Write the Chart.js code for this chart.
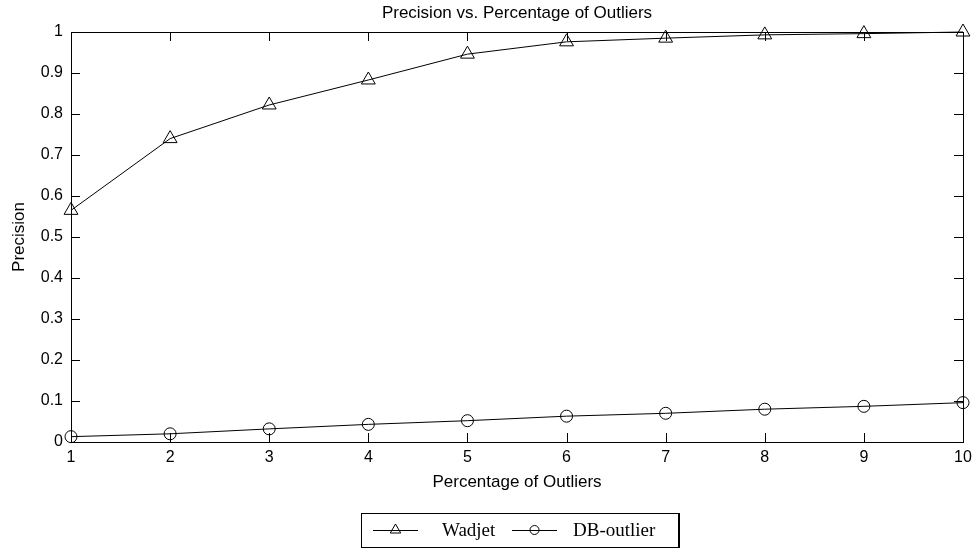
<!DOCTYPE html>
<html>
<head>
<meta charset="utf-8">
<title>Precision vs. Percentage of Outliers</title>
<script src="https://cdn.jsdelivr.net/npm/chart.js@4/dist/chart.umd.min.js"></script>
<style>
  html, body { margin: 0; padding: 0; background: #fff; }
  canvas { display: block; }
</style>
</head>
<body>
<canvas id="chart" width="979" height="548"></canvas>
<script>
// ---------------------------------------------------------------------------
// Data
// ---------------------------------------------------------------------------
const percentages = [1, 2, 3, 4, 5, 6, 7, 8, 9, 10];
const wadjetPrecision = [0.565, 0.74, 0.822, 0.883, 0.946, 0.976, 0.985, 0.993, 0.996, 1.0];
const dbOutlierPrecision = [0.013, 0.02, 0.032, 0.043, 0.052, 0.063, 0.07, 0.08, 0.087, 0.096];
const yTickValues = [0, 0.1, 0.2, 0.3, 0.4, 0.5, 0.6, 0.7, 0.8, 0.9, 1];

const chartTitle = "Precision vs. Percentage of Outliers";
const xTitle = "Percentage of Outliers";
const yTitle = "Precision";
const seriesNames = ["Wadjet", "DB-outlier"];

const SANS = "'Liberation Sans', Arial, Helvetica, sans-serif";
const SERIF = "'Liberation Serif', 'Times New Roman', serif";
const TICK_LEN = 9;

function toPoints(values) {
    return percentages.map((x, i) => ({ x, y: values[i] }));
}

// ---------------------------------------------------------------------------
// Plugin: MATLAB-style frame, inward ticks, titles and boxed legend
// ---------------------------------------------------------------------------
const matlabFrame = {
    id: "matlabFrame",
    afterDraw(chart) {
        const { ctx, chartArea: a, scales } = chart;
        ctx.save();
        ctx.strokeStyle = "#000";
        ctx.lineWidth = 1;

        // frame
        ctx.strokeRect(Math.round(a.left) + 0.5, Math.round(a.top) + 0.5,
            Math.round(a.right - a.left), Math.round(a.bottom - a.top));

        // inward ticks
        ctx.beginPath();
        for (const x of percentages) {
            const px = Math.round(scales.x.getPixelForValue(x)) + 0.5;
            ctx.moveTo(px, a.bottom); ctx.lineTo(px, a.bottom - TICK_LEN);
            ctx.moveTo(px, a.top); ctx.lineTo(px, a.top + TICK_LEN);
        }
        for (const v of yTickValues) {
            const py = Math.round(scales.y.getPixelForValue(v)) + 0.5;
            ctx.moveTo(a.left, py); ctx.lineTo(a.left + TICK_LEN, py);
            ctx.moveTo(a.right, py); ctx.lineTo(a.right - TICK_LEN, py);
        }
        ctx.stroke();

        // titles
        ctx.fillStyle = "#000";
        ctx.textAlign = "center";
        ctx.textBaseline = "middle";
        ctx.font = "17px " + SANS;
        const cx = (a.left + a.right) / 2;
        ctx.fillText(chartTitle, cx, 13);
        ctx.fillText(xTitle, cx, 482);
        ctx.save();
        ctx.translate(19, (a.top + a.bottom) / 2);
        ctx.rotate(-Math.PI / 2);
        ctx.fillText(yTitle, 0, 0);
        ctx.restore();

        // legend
        const lx = 361, ly = 513, lw = 317, lh = 34, my = ly + lh / 2;
        ctx.strokeRect(lx + 0.5, ly + 0.5, lw, lh);
        ctx.beginPath();
        ctx.moveTo(lx + lw + 1.5, ly); ctx.lineTo(lx + lw + 1.5, ly + lh + 1);
        ctx.stroke();

        const entries = [
            { x0: 373, x1: 418, tx: 442, style: "triangle", r: 6 },
            { x0: 512, x1: 557, tx: 573, style: "circle", r: 4.5 },
        ];
        ctx.font = "19px " + SERIF;
        ctx.textAlign = "left";
        entries.forEach((e, i) => {
            const mx = (e.x0 + e.x1) / 2;
            ctx.beginPath();
            ctx.moveTo(e.x0, my + 0.5); ctx.lineTo(e.x1, my + 0.5);
            ctx.stroke();
            // hollow marker, like the plotted points
            ctx.fillStyle = "rgba(0,0,0,0)";
            Chart.helpers.drawPoint(ctx, {
                pointStyle: e.style, radius: e.r, rotation: 0, borderWidth: 1,
            }, mx, my);
            ctx.fillStyle = "#000";
            ctx.fillText(seriesNames[i], e.tx, my + 1);
        });
        ctx.restore();
    },
};

// ---------------------------------------------------------------------------
// Chart
// ---------------------------------------------------------------------------
const lineStyle = {
    borderColor: "#000",
    borderWidth: 1,
    backgroundColor: "rgba(0,0,0,0)",
    pointBorderColor: "#000",
    pointBackgroundColor: "rgba(0,0,0,0)",
    pointBorderWidth: 1,
    pointHoverRadius: 0,
    tension: 0,
    fill: false,
    clip: false,
};

new Chart(document.getElementById("chart"), {
    type: "line",
    data: {
        datasets: [
            { ...lineStyle, label: seriesNames[0], data: toPoints(wadjetPrecision),
              pointStyle: "triangle", pointRadius: 8 },
            { ...lineStyle, label: seriesNames[1], data: toPoints(dbOutlierPrecision),
              pointStyle: "circle", pointRadius: 6 },
        ],
    },
    options: {
        responsive: false,
        animation: false,
        events: [],
        layout: {
            autoPadding: false,
            padding: { top: 32, right: 16, bottom: 56, left: 0 },
        },
        plugins: {
            legend: { display: false },
            title: { display: false },
            tooltip: { enabled: false },
        },
        scales: {
            x: {
                type: "linear",
                min: 1,
                max: 10,
                grid: { display: false, drawTicks: false },
                border: { display: false },
                ticks: {
                    stepSize: 1,
                    padding: 6,
                    color: "#000",
                    font: { family: SANS, size: 16 },
                    maxRotation: 0,
                },
                afterFit(s) { s.height = 50; },
            },
            y: {
                type: "linear",
                min: 0,
                max: 1,
                grid: { display: false, drawTicks: false },
                border: { display: false },
                ticks: {
                    stepSize: 0.1,
                    padding: 8,
                    color: "#000",
                    font: { family: SANS, size: 16 },
                    callback: (v) => String(Number(v.toFixed(1))),
                },
                afterFit(s) { s.width = 71; },
            },
        },
    },
    plugins: [matlabFrame],
});
</script>
</body>
</html>
